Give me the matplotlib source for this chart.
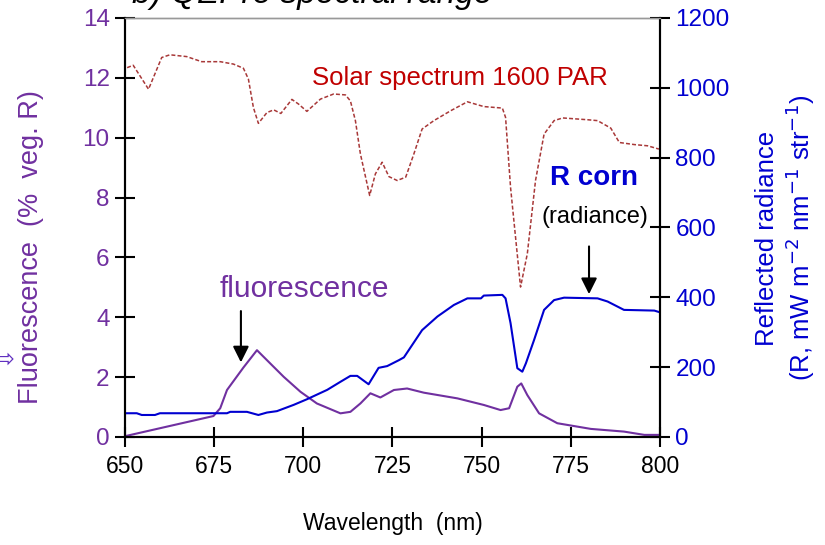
import matplotlib
matplotlib.use("Agg")
import matplotlib.pyplot as plt
import numpy as np

plt.rcParams['font.family'] = ['Liberation Sans', 'DejaVu Sans']

# solar spectrum (plotted on the left scale, arbitrary units)
solar_wl = [650.6, 652.3, 656.6, 660.3, 662.6, 667.3, 671.5, 676.7, 680.4, 683.2,
            684.6, 686.0, 687.4, 689.8, 691.7, 693.7, 696.8, 698.7, 701.0, 704.8,
            708.5, 711.8, 713.2, 714.6, 716.0, 718.6, 720.2, 722.1, 724.0, 726.3,
            728.7, 731.0, 733.3, 736.6, 741.3, 746.0, 750.6, 755.8, 756.7, 758.1,
            760.9, 762.8, 765.1, 767.5, 770.3, 772.7, 779.7, 782.5, 786.2, 788.6,
            792.8, 796.5, 799.7]
solar_val = [12.34, 12.42, 11.62, 12.68, 12.77, 12.71, 12.54, 12.54, 12.46, 12.32,
             11.96, 11.01, 10.48, 10.84, 10.93, 10.81, 11.28, 11.12, 10.88, 11.29,
             11.46, 11.43, 11.23, 10.57, 9.46, 8.07, 8.79, 9.18, 8.70, 8.57,
             8.68, 9.46, 10.29, 10.57, 10.90, 11.20, 11.04, 10.99, 10.68, 8.34,
             5.01, 6.12, 8.57, 10.12, 10.57, 10.66, 10.60, 10.57, 10.32, 9.84,
             9.77, 9.73, 9.62]

# fluorescence (% veg. R)
fluo_wl = [650.5, 674.8, 676.7, 678.6, 683.2, 687.0, 690.7, 694.5, 699.2, 703.8,
           710.4, 713.2, 716.0, 718.8, 721.6, 725.4, 729.1, 733.8, 743.2, 750.6,
           755.3, 757.7, 760.0, 761.1, 762.8, 766.1, 771.2, 780.6, 789.9, 795.6, 800.0]
fluo_val = [0.04, 0.70, 0.96, 1.57, 2.32, 2.90, 2.46, 2.01, 1.51, 1.12,
            0.79, 0.84, 1.12, 1.46, 1.32, 1.57, 1.62, 1.48, 1.29, 1.07,
            0.90, 0.96, 1.68, 1.79, 1.40, 0.79, 0.46, 0.27, 0.18, 0.07, 0.07]

# reflected radiance of corn
rad_wl = [650.5, 653.3, 654.7, 658.4, 659.8, 678.6, 679.5, 684.2, 687.4, 689.8,
          692.6, 697.3, 701.0, 706.7, 710.4, 713.2, 715.1, 718.3, 721.1, 723.5,
          726.8, 728.2, 733.3, 737.6, 742.2, 746.0, 749.8, 750.6, 755.8, 756.7,
          758.1, 760.0, 761.4, 762.4, 764.7, 767.5, 770.3, 773.1, 782.5, 785.3,
          789.9, 798.4, 800.0]
rad_val = [68, 68, 63, 63, 68, 68, 72, 72, 63, 70,
           74, 92, 108, 135, 158, 175, 175, 151, 198, 203,
           220, 228, 306, 345, 378, 397, 397, 405, 407, 397,
           326, 197, 187, 211, 278, 364, 392, 399, 397, 388,
           364, 362, 357]

purple = '#7030a0'
blue = '#0000d0'

fig = plt.figure(figsize=(8.25, 5.45), dpi=100)
ax = fig.add_axes([0.1515, 0.1982, 0.6485, 0.7688])
ax2 = ax.twinx()

ax.plot(solar_wl, solar_val, ls=(0, (2.6, 1.4)), color='#a83838', lw=1.1)
ax.plot(fluo_wl, fluo_val, color=purple, lw=1.5)
ax2.plot(rad_wl, rad_val, color=blue, lw=1.5)

ax.set_xlim(650, 800)
ax.set_ylim(0, 14)
ax2.set_ylim(0, 1200)
ax.set_xticks([650, 675, 700, 725, 750, 775, 800])
ax.set_yticks(range(0, 15, 2))
ax2.set_yticks(range(0, 1201, 200))

ax.tick_params(axis='x', direction='inout', length=14, width=1.5, labelsize=16.5, pad=6)
ax.tick_params(axis='y', direction='inout', length=14, width=1.5, labelsize=17.5,
               labelcolor=purple, pad=4)
ax2.tick_params(axis='y', direction='inout', length=14, width=1.5, labelsize=17.5,
                labelcolor=blue, pad=4)
for a in (ax, ax2):
    for s in ('left', 'right', 'bottom'):
        a.spines[s].set_linewidth(1.5)
    a.spines['top'].set_color('#999999')
    a.spines['top'].set_linewidth(1)

ax.set_xlabel('Wavelength  (nm)', fontsize=16.5)
ax.xaxis.set_label_coords(0.5, -0.178)
ax.set_ylabel('Fluorescence  (%  veg. R)', fontsize=19.5, color=purple)
ax.yaxis.set_label_coords(-0.151, 0.453)
ax2.set_ylabel('Reflected radiance\n(R, mW m$^{-2}$ nm$^{-1}$ str$^{-1}$)',
               fontsize=18.5, color=blue, linespacing=1.15)
ax2.yaxis.set_label_coords(1.178, 0.475)

ax.text(744, 12.0, 'Solar spectrum 1600 PAR', color='#c00000', fontsize=18.5,
        ha='center', va='center')
ax.text(700.3, 4.93, 'fluorescence', color=purple, fontsize=21.5,
        ha='center', va='center')
ax.text(781.5, 8.67, 'R corn', color=blue, fontsize=20, fontweight='bold',
        ha='center', va='center')
ax.text(781.8, 7.34, '(radiance)', color='black', fontsize=17,
        ha='center', va='center')

arrow = dict(arrowstyle='-|>', color='black', lw=1.5, mutation_scale=24)
ax.annotate('', xy=(682.5, 2.4), xytext=(682.5, 4.3), arrowprops=arrow)
ax.annotate('', xy=(780.1, 4.68), xytext=(780.1, 6.46), arrowprops=arrow)

# panel title, cut off by the top edge as in the source figure
fig.text(0.16, 1 - 3 / 545, 'b) QEPro spectral range', fontsize=24, style='italic',
         ha='left', va='baseline')
# tip of a hollow arrow cut off at the left edge
fig.text(14 / 825, 1 - 360 / 545, '\u21e8', fontsize=18, color='#6030c0',
         family='DejaVu Sans', ha='right', va='center')

fig.savefig('out.png', dpi=100)
